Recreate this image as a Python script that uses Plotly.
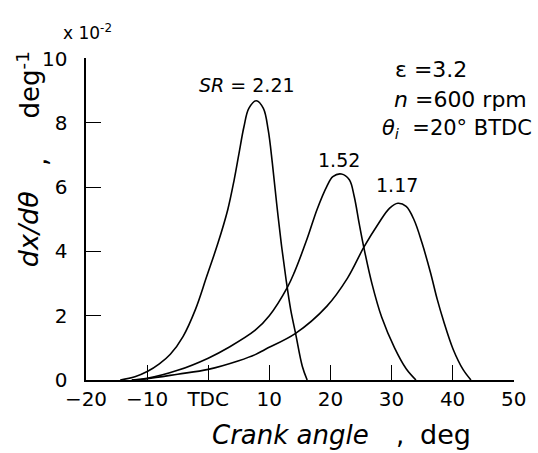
import plotly.graph_objects as go

# Data (dx/dtheta in units of 1e-2 deg^-1)
theta_221 = [-14.4, -12.0, -9.9, -8.0, -6.2, -4.1, -2.1, -0.25, 1.6, 3.2, 4.25, 5.05, 5.85, 6.65, 7.87, 9.03, 9.82, 10.5, 11.2, 11.95, 12.75, 13.5, 14.3, 15.4, 16.2]
dx_221 = [0.0, 0.1, 0.27, 0.5, 0.8, 1.36, 2.19, 3.22, 4.26, 5.3, 6.23, 7.06, 7.88, 8.45, 8.69, 8.45, 7.78, 6.75, 5.5, 4.26, 3.12, 2.19, 1.45, 0.43, 0.0]

theta_152 = [-12.5, -10.0, -5.0, 0.0, 3.4, 7.7, 10.0, 13.0, 14.1, 16.2, 17.8, 19.4, 20.4, 21.8, 23.1, 23.9, 24.7, 25.5, 26.8, 28.4, 30.5, 32.4, 34.0]
dx_152 = [0.0, 0.05, 0.3, 0.68, 1.02, 1.55, 2.0, 2.9, 3.35, 4.4, 5.3, 6.02, 6.33, 6.41, 6.23, 5.71, 4.88, 4.1, 3.0, 1.95, 1.0, 0.35, 0.0]

theta_117 = [-12.5, -10.0, -5.0, 0.0, 5.0, 7.7, 9.3, 14.3, 19.4, 22.8, 25.5, 27.9, 29.7, 31.05, 32.4, 33.7, 35.0, 36.4, 37.5, 38.5, 40.1, 41.7, 43.0]
dx_117 = [0.0, 0.04, 0.18, 0.33, 0.6, 0.79, 0.95, 1.45, 2.29, 3.17, 4.14, 4.88, 5.35, 5.5, 5.4, 4.98, 4.26, 3.33, 2.5, 1.85, 0.95, 0.33, 0.0]

x_tickvals = [-20, -10, 0, 10, 20, 30, 40, 50]
x_ticktext = ["\u221220", "\u221210", "TDC", "10", "20", "30", "40", "50"]
y_tickvals = [0, 2, 4, 6, 8, 10]
y_ticktext = ["0", "2", "4", "6", "8", "10"]

X_RANGE = [-20, 50.05]
Y_RANGE = [0, 10.02]

FONT = "DejaVu Sans, sans-serif"
NB = "\u00a0"

W, H = 538, 453
L, R, T, B = 86, 13, 58, 72.5
pw = W - L - R
ph = H - T - B

fig = go.Figure()
for xs, ys in [(theta_221, dx_221), (theta_152, dx_152), (theta_117, dx_117)]:
    fig.add_trace(go.Scatter(x=xs, y=ys, mode="lines",
                             line=dict(color="black", width=1.6, shape="spline", smoothing=1.0),
                             showlegend=False, hoverinfo="skip"))

fig.update_layout(
    width=W, height=H,
    margin=dict(l=L, r=R, t=T, b=B),
    paper_bgcolor="white", plot_bgcolor="white",
    font=dict(family=FONT, size=20, color="black"),
    xaxis=dict(range=X_RANGE, tickvals=x_tickvals, ticktext=x_ticktext,
               showgrid=False, zeroline=False, showline=True, linecolor="black", linewidth=1.5,
               ticks="inside", ticklen=15, tickwidth=1.4, tickcolor="black",
               tickfont=dict(size=20, family=FONT)),
    yaxis=dict(range=Y_RANGE, tickvals=y_tickvals, ticktext=[t + NB * 2 for t in y_ticktext],
               showgrid=False, zeroline=False, showline=True, linecolor="black", linewidth=1.5,
               ticks="inside", ticklen=15, tickwidth=1.4, tickcolor="black",
               tickfont=dict(size=20, family=FONT)),
)

def px2paper(px, py):
    return (px - L) / pw, (H - B - py) / ph

annots = [
    (251, 85, "<i>SR</i> = 2.21", "center", 19, 0),
    (345, 160, "1.52", "center", 19, 0),
    (405, 185, "1.17", "center", 19, 0),
    (401, 70, "\u03b5 =3.2", "left", 22, 0),
    (400, 100, "<i>n</i> =600 rpm", "left", 22, 0),
    (388, 129, "<i>\u03b8<sub>i</sub></i>  =20\u00b0 BTDC", "left", 21, 0),
    (88, 32, "x 10<sup>-2</sup>", "center", 17, 0),
    (296, 436, "<i>Crank angle</i>", "center", 26, 0),
    (408, 436, ",", "center", 26, 0),
    (455, 435, "deg", "center", 27, 0),
    (27, 229, "<i>dx/d\u03b8</i>", "center", 27, -90),
    (37, 162, ",", "center", 26, -90),
    (27, 85, "deg<sup>-1</sup>", "center", 26, -90),
]
for px, py, txt, xa, fs, ang in annots:
    xp, yp = px2paper(px, py)
    fig.add_annotation(x=xp, y=yp, xref="paper", yref="paper", text=txt, showarrow=False,
                       xanchor=xa, yanchor="middle", textangle=ang,
                       font=dict(size=fs, family=FONT, color="black"))

fig.write_html("out.html")
